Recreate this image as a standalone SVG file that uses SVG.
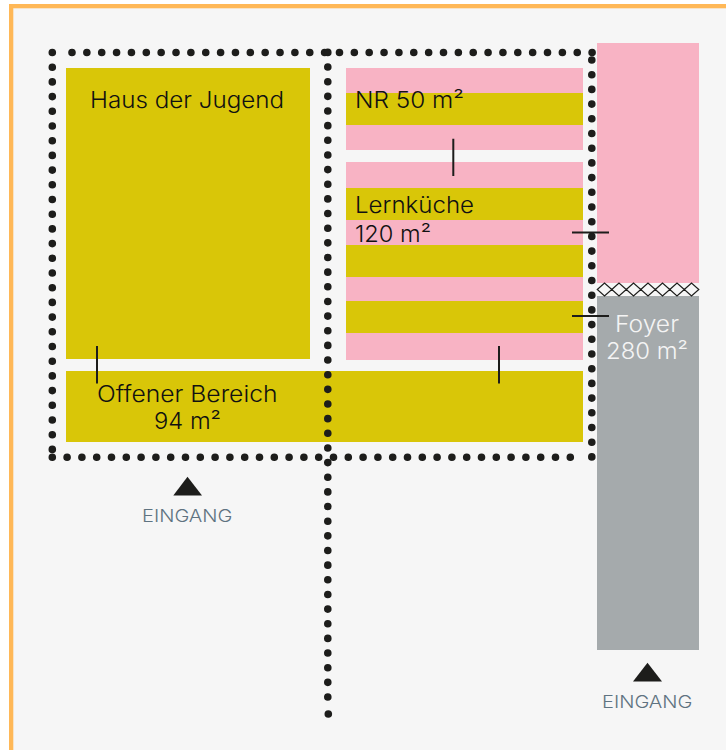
<svg xmlns="http://www.w3.org/2000/svg" width="726" height="750" viewBox="0 0 726 750">
<style>
text{font-family:"Inter","Liberation Sans",sans-serif;font-size:22.5px;font-weight:300;fill:#111}
.e{font-size:17.5px;fill:#5f7381;font-weight:300}
.w{fill:#f4f4f4}
.y{fill:#d9c608}.p{fill:#f8b3c4}
.dots{fill:none;stroke:#1d1d1b;stroke-width:7.6;stroke-linecap:round}
.tick{stroke:#1d1d1b;stroke-width:2;fill:none}
.dia{fill:none;stroke:#1d1d1b;stroke-width:1.2}
</style>
<rect width="726" height="750" fill="#fff"/>
<rect x="9" y="4" width="717" height="746" fill="#ffb857"/>
<rect x="13.3" y="8.3" width="712.7" height="741.7" fill="#f6f6f6"/>
<g id="haus"><rect class="y" x="66" y="68" width="244" height="291"/><text x="90" y="108" textLength="194" lengthAdjust="spacingAndGlyphs">Haus der Jugend</text></g>
<g id="offen"><rect class="y" x="66" y="371" width="517" height="71"/><text x="97" y="401.7" textLength="180.5" lengthAdjust="spacingAndGlyphs">Offener Bereich</text><text x="154" y="429" textLength="67" lengthAdjust="spacingAndGlyphs">94 m²</text></g>
<g id="nr"><rect class="p" x="346" y="68" width="237" height="82"/><rect class="y" x="346" y="93" width="237" height="32"/><text x="355" y="108" textLength="109" lengthAdjust="spacingAndGlyphs">NR 50 m²</text></g>
<g id="lern"><rect class="p" x="346" y="162" width="237" height="198"/><rect class="y" x="346" y="188" width="237" height="32"/><rect class="y" x="346" y="245" width="237" height="32"/><rect class="y" x="346" y="301" width="237" height="32"/><text x="355" y="213.3" textLength="119" lengthAdjust="spacingAndGlyphs">Lernküche</text><text x="355" y="241.7" textLength="76" lengthAdjust="spacingAndGlyphs">120 m²</text></g>
<g id="pinkblock"><rect class="p" x="597" y="43" width="102" height="240"/></g>
<g id="foyer"><rect x="597" y="296" width="102" height="354" fill="#a5aaac"/><text class="w" x="615" y="332" textLength="64" lengthAdjust="spacingAndGlyphs">Foyer</text><text class="w" x="606" y="359" textLength="82" lengthAdjust="spacingAndGlyphs">280 m²</text></g>
<g id="glazing"><path class="dia" d="M597.3 289.5L604.5 283 611.8 289.5 604.5 296ZM611.8 289.5L619 283 626.3 289.5 619 296ZM626.3 289.5L633.5 283 640.8 289.5 633.5 296ZM640.8 289.5L648 283 655.3 289.5 648 296ZM655.3 289.5L662.5 283 669.8 289.5 662.5 296ZM669.8 289.5L677 283 684.3 289.5 677 296ZM684.3 289.5L691.5 283 698.8 289.5 691.5 296Z"/></g>
<g id="connectors">
<path class="dots" stroke-dasharray="0 14.7" d="M52.3 52.5V450"/>
<path class="dots" stroke-dasharray="0 14.86" d="M72 52.5H593"/>
<path class="dots" stroke-dasharray="0 14.8" d="M52.3 457.3H573"/>
<path class="dots" stroke-dasharray="0 14.65" d="M327.8 52.4V698"/>
<path class="dots" d="M328.3 714h.01"/>
<path class="dots" stroke-dasharray="0 14.7" d="M591.8 60V458"/>
<path class="tick" d="M572 232.5H609M572 316H609M453.3 138.7V176M97 346V383.5M499 346V383.5"/>
</g>
<g id="eingang1"><path d="M173.3 495.5L187.5 476.7 202 495.5Z" fill="#1d1d1b"/><text class="e" x="142" y="522" textLength="90.5" lengthAdjust="spacingAndGlyphs">EINGANG</text></g>
<g id="eingang2"><path d="M633 681.5L647.5 662.7 662 681.5Z" fill="#1d1d1b"/><text class="e" x="602" y="708" textLength="90.5" lengthAdjust="spacingAndGlyphs">EINGANG</text></g>
</svg>
